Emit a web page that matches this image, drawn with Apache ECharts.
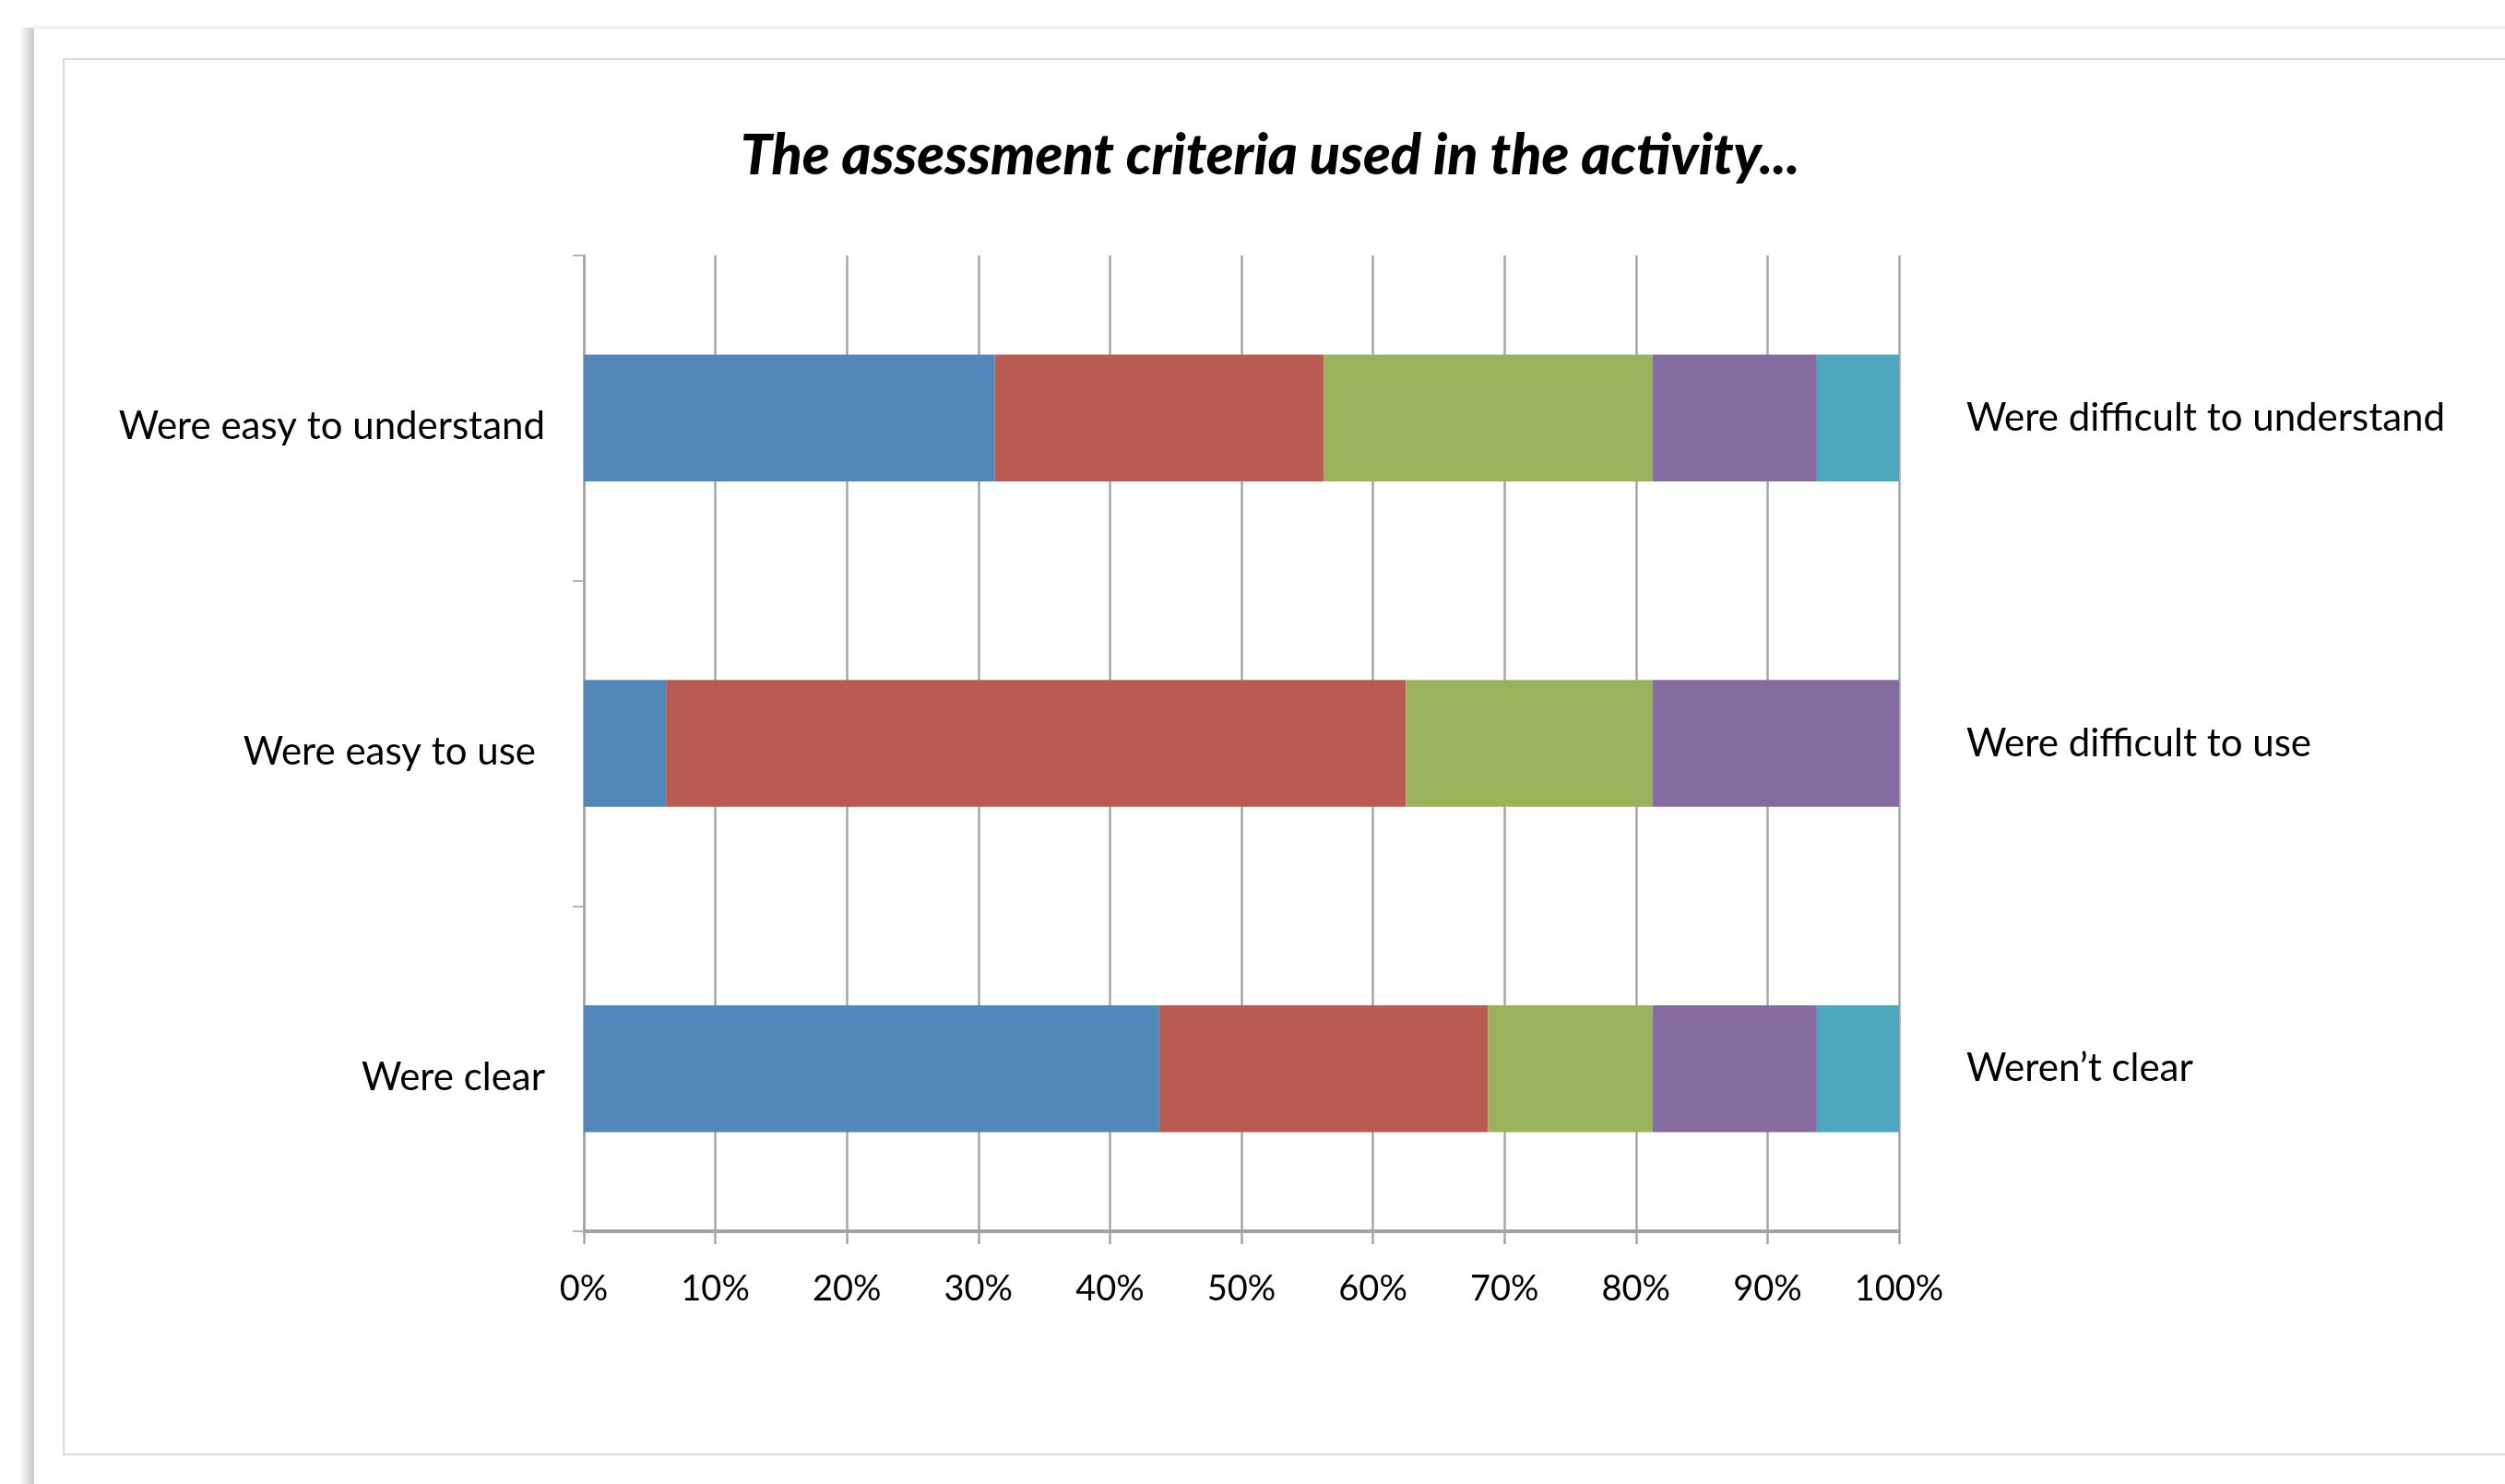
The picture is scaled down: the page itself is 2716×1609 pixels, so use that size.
<!DOCTYPE html>
<html>
<head>
<meta charset="utf-8">
<script src="https://cdn.jsdelivr.net/npm/echarts@6/dist/echarts.min.js"></script>
<style>
  html, body { margin: 0; padding: 0; background: #ffffff; }
  #chart { width: 2716px; height: 1609px; }
</style>
</head>
<body>
<div id="chart"></div>
<script>
// ---- data ----
const titleText = 'The assessment criteria used in the activity...';
const leftCategories = ['Were easy to understand', 'Were easy to use', 'Were clear'];
const rightCategories = ['Were difficult to understand', 'Were difficult to use', 'Weren\u2019t clear'];
const seriesNames = ['1', '2', '3', '4', '5'];
const level1 = [31.25, 6.25, 43.75];
const level2 = [25, 56.25, 25];
const level3 = [25, 18.75, 12.5];
const level4 = [12.5, 18.75, 12.5];
const level5 = [6.25, 0, 6.25];
const xTicks = [0, 10, 20, 30, 40, 50, 60, 70, 80, 90, 100];

const seriesValues = [level1, level2, level3, level4, level5];
const colors = ['#5187b9', '#b95b53', '#99b25b', '#846ca0', '#4ba8bf'];

const chart = echarts.init(document.getElementById('chart'), null, { renderer: 'canvas' });

const FONT = 'Lato, "Open Sans", sans-serif';
const labelFont = { fontFamily: FONT, fontSize: 42, color: '#000000' };

const option = {
  backgroundColor: '#ffffff',
  animation: false,
  title: {
    text: titleText,
    left: 1377,
    textAlign: 'center',
    top: 139,
    padding: 0,
    textStyle: {
      fontFamily: FONT,
      fontStyle: 'italic',
      fontWeight: 900,
      fontSize: 61,
      color: '#000000'
    }
  },
  graphic: [
    { type: 'rect', shape: { x: 22, y: 30, width: 15, height: 1600 },
      style: { fill: new echarts.graphic.LinearGradient(0, 0, 1, 0, [
        { offset: 0, color: '#fbfbfb' }, { offset: 0.6, color: '#dcdcdc' }, { offset: 1, color: '#c9c9c9' }]) },
      silent: true, z: -10 },
    { type: 'line', shape: { x1: 36, y1: 30, x2: 2716, y2: 30 },
      style: { stroke: '#f0f0f0', lineWidth: 3 }, silent: true, z: -10 },
    { type: 'rect', shape: { x: 69, y: 64, width: 2700, height: 1513 },
      style: { fill: 'none', stroke: '#dadada', lineWidth: 2 }, silent: true, z: -10 }
  ],
  grid: {
    left: 633,
    right: 657,
    top: 277,
    bottom: 274,
    containLabel: false
  },
  xAxis: {
    type: 'value',
    min: xTicks[0],
    max: xTicks[xTicks.length - 1],
    interval: xTicks[1] - xTicks[0],
    axisLine: { show: true, lineStyle: { color: '#a3a3a3', width: 4 } },
    axisTick: { show: true, length: 14, lineStyle: { color: '#a6a6a6', width: 2.5 } },
    splitLine: { show: true, lineStyle: { color: '#a6a6a6', width: 2.5 } },
    axisLabel: {
      formatter: '{value}%',
      fontFamily: FONT,
      fontSize: 38,
      color: '#000000',
      margin: 44
    }
  },
  yAxis: [
    {
      type: 'category',
      data: leftCategories,
      inverse: true,
      position: 'left',
      axisLine: { show: true, lineStyle: { color: '#a6a6a6', width: 2.5 } },
      axisTick: { show: true, length: 12, lineStyle: { color: '#b5b5b5', width: 2 } },
      splitLine: { show: false },
      axisLabel: {
        fontFamily: FONT,
        fontSize: 42,
        color: '#000000',
        margin: 42,
        padding: [19, 0, 0, 0],
        formatter: function (v) {
          return v === leftCategories[1] ? '{s|' + v + '}' : '{n|' + v + '}';
        },
        rich: {
          n: Object.assign({}, labelFont),
          s: Object.assign({ padding: [0, 10, 0, 0] }, labelFont)
        }
      }
    },
    {
      type: 'category',
      data: rightCategories,
      inverse: true,
      position: 'right',
      axisLine: { show: false },
      axisTick: { show: false },
      splitLine: { show: false },
      axisLabel: {
        fontFamily: FONT,
        fontSize: 42,
        color: '#000000',
        margin: 73,
        padding: [0, 0, 8, 0]
      }
    }
  ],
  series: seriesNames.map((name, i) => ({
    name: name,
    type: 'bar',
    stack: 'total',
    yAxisIndex: 0,
    barCategoryGap: '61%',
    itemStyle: { color: colors[i] },
    data: seriesValues[i]
  }))
};

chart.setOption(option);
</script>
</body>
</html>
